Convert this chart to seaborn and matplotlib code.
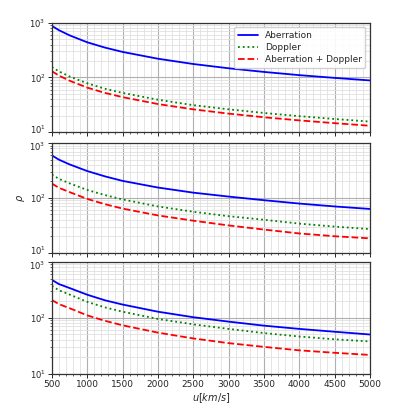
import numpy as np
import pandas as pd
import matplotlib
matplotlib.use('Agg')
import matplotlib.pyplot as plt
import matplotlib.transforms as mtransforms
import seaborn as sns
from matplotlib.ticker import LogLocator, MultipleLocator, NullFormatter

sns.set_style('ticks')
plt.rcParams['font.family'] = ['DejaVu Sans']
plt.rcParams['mathtext.fontset'] = 'dejavusans'

# velocity grid [km/s]
u = [500, 600, 750, 1000, 1250, 1500, 2000, 2500, 3000, 3500, 4000, 4500, 5000]

# panel 1
aber_1 = [880, 733, 590, 440, 352, 293, 220, 176, 147, 126, 110, 98, 88]
dopp_1 = [155, 129, 104, 78, 62, 52, 39, 31, 26, 22.3, 19.5, 17.3, 15.5]
both_1 = [130, 108, 87, 65, 52, 43.5, 32.5, 26, 21.7, 18.6, 16.3, 14.5, 13]

# panel 2
aber_2 = [598, 500, 410, 310, 248, 205, 155, 125, 106, 91, 79, 70, 63]
dopp_2 = [267, 223, 185, 140, 113, 94, 70, 56, 46.5, 40, 34, 30, 27]
both_2 = [183, 153, 128, 96, 77, 64, 48, 38.5, 31.5, 26.5, 22.5, 20, 18.3]

# panel 3
aber_3 = [476, 400, 340, 258, 205, 172, 128, 102, 85, 72, 63, 56, 50]
dopp_3 = [371, 310, 260, 192, 153, 128, 95, 76, 63, 53, 46, 41, 37.5]
both_3 = [207, 175, 148, 110, 88, 73, 54, 42.5, 35, 30, 26, 23.5, 21.5]

panels = [(aber_1, dopp_1, both_1), (aber_2, dopp_2, both_2), (aber_3, dopp_3, both_3)]

fig = plt.figure(figsize=(3.99, 4.15), dpi=100)
boxes = [(0.130, 0.682, 0.797, 0.263),
         (0.130, 0.391, 0.797, 0.264),
         (0.130, 0.100, 0.797, 0.269)]

axes = []
for (aber, dopp, both), box in zip(panels, boxes):
    ax = fig.add_axes(box)
    sns.lineplot(x=u, y=aber, ax=ax, color='b', linewidth=1.3, label='Aberration')
    sns.lineplot(x=u, y=dopp, ax=ax, color='g', linewidth=1.3, linestyle=':', label='Doppler')
    sns.lineplot(x=u, y=both, ax=ax, color='r', linewidth=1.3, linestyle='--',
                 label='Aberration + Doppler')
    ax.set_yscale('log')
    ax.set_xlim(500, 5000)
    ax.set_ylim(10, 1000)
    ax.xaxis.set_major_locator(MultipleLocator(500))
    ax.xaxis.set_minor_locator(MultipleLocator(100))
    ax.yaxis.set_major_locator(LogLocator(base=10, numticks=5))
    ax.yaxis.set_minor_locator(LogLocator(base=10, subs=np.arange(2, 10), numticks=10))
    ax.yaxis.set_minor_formatter(NullFormatter())
    ax.grid(which='major', color='#b0b0b0', linewidth=0.8)
    ax.grid(which='minor', color='#e0e0e0', linewidth=0.6)
    ax.tick_params(which='major', labelsize=6.5, length=3, width=0.7, pad=1.5)
    ax.tick_params(axis='y', which='major', labelsize=6.1)
    ax.tick_params(which='minor', length=1.5, width=0.5)
    for s in ax.spines.values():
        s.set_linewidth(0.9)
        s.set_color('#333333')
    ax.set_xlabel('')
    ax.set_ylabel('')
    axes.append(ax)

axes[0].legend(loc='upper right', fontsize=6.5, framealpha=0.9, handlelength=2.2,
               borderpad=0.4, labelspacing=0.35)
axes[1].get_legend().remove()
axes[2].get_legend().remove()
axes[0].tick_params(labelbottom=False)
axes[1].tick_params(labelbottom=False)

axes[1].set_ylabel(r'$\rho$', fontsize=7, labelpad=2)
axes[2].set_xlabel(r'$u [km/s]$', fontsize=7, labelpad=2)

# nudge the touching 10^1 / 10^3 labels between panels apart a little
fig.canvas.draw()
up = mtransforms.ScaledTranslation(0, 2 / 72, fig.dpi_scale_trans)
down = mtransforms.ScaledTranslation(0, -2 / 72, fig.dpi_scale_trans)
for upper, lower in [(axes[0], axes[1]), (axes[1], axes[2])]:
    for tick in upper.yaxis.get_major_ticks():
        if np.isclose(tick.get_loc(), 10):
            tick.label1.set_transform(tick.label1.get_transform() + up)
    for tick in lower.yaxis.get_major_ticks():
        if np.isclose(tick.get_loc(), 1000):
            tick.label1.set_transform(tick.label1.get_transform() + down)

fig.savefig('out.png', dpi=100)
